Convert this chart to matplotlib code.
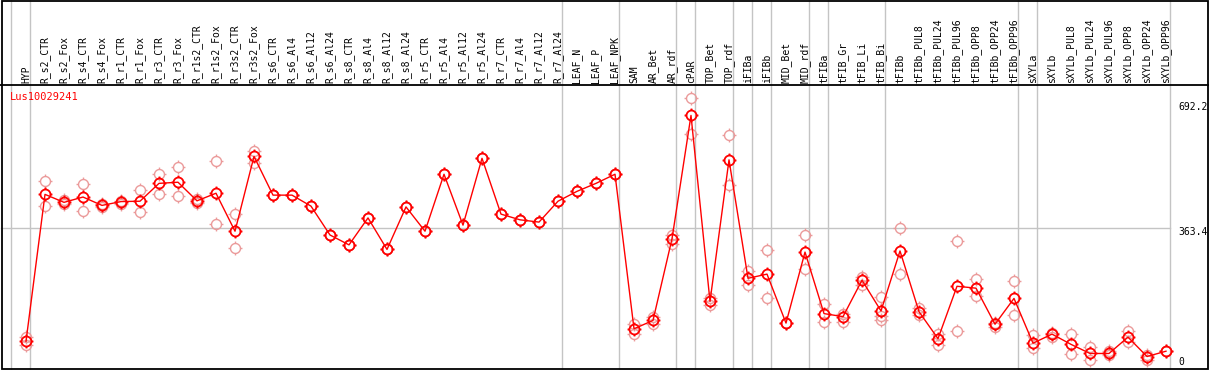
import numpy as np
import matplotlib
matplotlib.use("Agg")
import matplotlib.pyplot as plt
from matplotlib.path import Path
from matplotlib.patches import Rectangle

# nomes das amostras (eixo x)
samples = ["HYP", "R_s2_CTR", "R_s2_Fox", "R_s4_CTR", "R_s4_Fox", "R_r1_CTR", "R_r1_Fox",
           "R_r3_CTR", "R_r3_Fox", "R_r1s2_CTR", "R_r1s2_Fox", "R_r3s2_CTR", "R_r3s2_Fox",
           "R_s6_CTR", "R_s6_Al4", "R_s6_Al12", "R_s6_Al24", "R_s8_CTR", "R_s8_Al4",
           "R_s8_Al12", "R_s8_Al24", "R_r5_CTR", "R_r5_Al4", "R_r5_Al12", "R_r5_Al24",
           "R_r7_CTR", "R_r7_Al4", "R_r7_Al12", "R_r7_Al24", "LEAF_N", "LEAF_P", "LEAF_NPK",
           "SAM", "AR_Bet", "AR_rdf", "cPAR", "TOP_Bet", "TOP_rdf", "iFIBa", "iFIBb",
           "MID_Bet", "MID_rdf", "tFIBa", "tFIB_Gr", "tFIB_Li", "tFIB_Bi", "tFIBb",
           "tFIBb_PUL8", "tFIBb_PUL24", "tFIBb_PUL96", "tFIBb_OPP8", "tFIBb_OPP24",
           "tFIBb_OPP96", "sXYLa", "sXYLb", "sXYLb_PUL8", "sXYLb_PUL24", "sXYLb_PUL96",
           "sXYLb_OPP8", "sXYLb_OPP24", "sXYLb_OPP96"]

# media por amostra
means = [65, 452, 431, 445, 423, 433, 434, 481, 484, 435, 455, 355, 552,
         450, 450, 421, 345, 319, 390, 307, 419, 355, 505, 371, 547,
         400, 385, 379, 434, 460, 481, 505,
         98, 120, 335, 660, 170, 543, 231, 242,
         113, 300, 138, 130, 226, 145, 303,
         143, 72, 210, 205, 110, 178,
         60, 84, 57, 33, 33, 76, 25, 39]

# replicas
rep_a = [76, 486, 438, 480, 427, 435, 463, 505, 524, 440, 539, 400, 567,
         450, 450, 421, 345, 319, 390, 307, 419, 355, 505, 371, 547,
         400, 385, 379, 434, 460, 481, 505,
         111, 130, 346, 705, 179, 608, 251, 305,
         113, 345, 163, 138, 234, 181, 363,
         153, 84, 328, 229, 113, 223,
         81, 87, 85, 50, 40, 92, 30, 39]
rep_b = [56, 421, 427, 407, 420, 427, 405, 454, 447, 429, 374, 310, 535,
         450, 450, 421, 345, 319, 390, 307, 419, 355, 505, 371, 547,
         400, 385, 379, 434, 460, 481, 505,
         84, 111, 320, 612, 161, 478, 213, 179,
         113, 256, 116, 116, 214, 131, 242,
         135, 56, 91, 184, 102, 133,
         47, 77, 31, 17, 30, 63, 17, 39]
rep_c = [np.nan] * len(samples)
rep_c[45] = 120

# separadores verticais (depois destes indices)
separators = [-1, 0, 28, 31, 34, 35, 37, 38, 39, 41, 42, 45, 52, 53, 60]
ytick_vals = [692.2, 363.4, 0]
gene = "Lus10029241"

# geometria em pixels
W, H = 1209, 370
X0, DX = 26, 19          # posicao da 1a amostra e espacamento
Y0, PPU = 366, 0.3797    # pixel do zero e pixels por unidade


def px_to_y(py):
    return (Y0 - py) / PPU


def px_to_x(px):
    return (px - X0) / DX


fig = plt.figure(figsize=(W / 100, H / 100), dpi=100)
ax = fig.add_axes([0, 0, 1, 1])
ax.set_xlim(px_to_x(0), px_to_x(W))
ax.set_ylim(px_to_y(H), px_to_y(0))
ax.axis("off")

grey = "#c4c4c4"
mono = "DejaVu Sans Mono"

# linhas verticais de grupo
for s in separators:
    ax.axvline(s + 0.23, color=grey, lw=1, zorder=1)
# linha horizontal do meio
ax.plot([px_to_x(1), separators[-1] + 0.23], [363.4, 363.4], color=grey, lw=1, zorder=1)

# marcador: circulo (poligono) com pequenos tracos
t = np.linspace(0, 2 * np.pi, 41)
circ = Path(np.column_stack([np.cos(t), np.sin(t)]))
ticks = Path([(0, 1), (0, 1.4), (0, -1), (0, -1.4), (1, 0), (1.4, 0), (-1, 0), (-1.4, 0)],
             [Path.MOVETO, Path.LINETO] * 4)
mk = Path.make_compound_path(circ, ticks)

x = np.arange(len(samples))
for reps in (rep_a, rep_b, rep_c):
    ax.plot(x, reps, ls="none", marker=mk, ms=10, mfc="none", mec="#eb9a9a", mew=1.0, zorder=2)
ax.plot(x, means, color="red", lw=1, zorder=3)
ax.plot(x, means, ls="none", marker=mk, ms=10, mfc="none", mec="red", mew=1.3, zorder=4)

# rotulos das amostras
for i, name in enumerate(samples):
    ax.text(i, px_to_y(83.5), name, rotation=90, ha="center", va="bottom",
            fontsize=7, family=mono, color="black")

# valores do eixo y a direita (o rotulo fica 4px abaixo do valor, sem sair da moldura)
for v in ytick_vals:
    py = min(Y0 - v * PPU + 4, 362)
    ax.text(px_to_x(1178), px_to_y(py), f"{v:g}", ha="left", va="center",
            fontsize=7, family=mono, color="black")

ax.text(px_to_x(10), px_to_y(97), gene, ha="left", va="center", fontsize=7.5,
        family=mono, color="red")

# moldura e linha abaixo dos rotulos
fig.add_artist(Rectangle((1.5 / W, 1.5 / H), (W - 3) / W, (H - 2) / H, fill=False,
                         ec="black", lw=1.3, transform=fig.transFigure))
fig.add_artist(plt.Line2D([0, 1], [1 - 85 / H, 1 - 85 / H], color="black", lw=1.3,
                          transform=fig.transFigure))

plt.savefig("out.png", dpi=100)
